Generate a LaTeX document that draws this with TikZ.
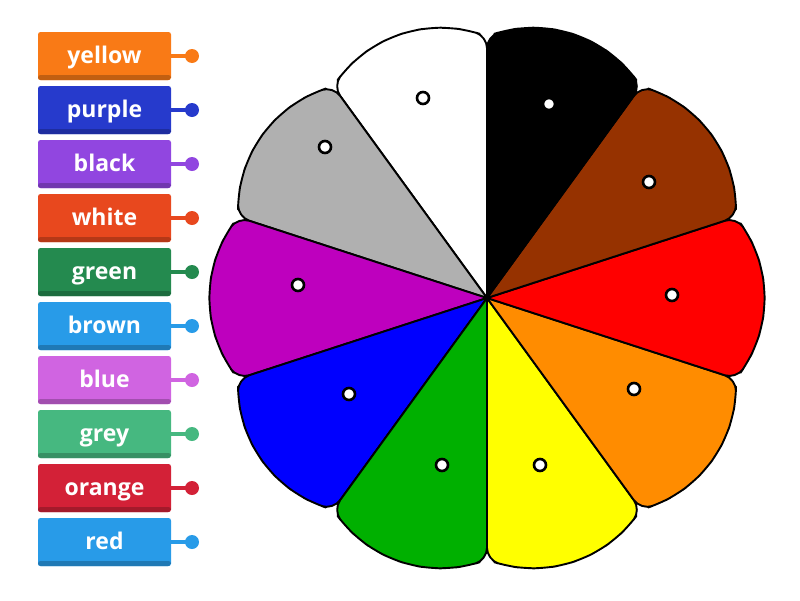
\documentclass[tikz,border=0pt]{standalone}
\usepackage{fontspec}
\setmainfont{Open Sans}
\definecolor{cyellowlbl}{RGB}{249,122,22}
\definecolor{cpurplelbl}{RGB}{38,58,204}
\definecolor{cblacklbl}{RGB}{145,70,224}
\definecolor{cwhitelbl}{RGB}{232,72,30}
\definecolor{cgreenlbl}{RGB}{36,138,79}
\definecolor{cbrownlbl}{RGB}{40,155,232}
\definecolor{cbluelbl}{RGB}{208,100,225}
\definecolor{cgreylbl}{RGB}{70,184,128}
\definecolor{corangelbl}{RGB}{211,33,55}
\definecolor{credlbl}{RGB}{40,155,232}
\definecolor{wbrown}{RGB}{150,50,0}
\definecolor{wred}{RGB}{255,0,0}
\definecolor{worange}{RGB}{255,140,0}
\definecolor{wyellow}{RGB}{255,255,0}
\definecolor{wgreen}{RGB}{0,176,0}
\definecolor{wblue}{RGB}{0,0,255}
\definecolor{wpurple}{RGB}{190,0,190}
\definecolor{wgrey}{RGB}{176,176,176}
\newcommand\petal[3]{%
  \filldraw[wedgeline, fill=#1] (0,0) -- (#2:262)
    \foreach \k in {1,...,8} { -- ({#2+4*\k}:{262+16*(1-((\k-4.5)/4.5)^2)}) }
    -- (#3:262) -- (0,0);}
\begin{document}
\begin{tikzpicture}[x=1pt,y=-1pt,
  wedgeline/.style={draw=black, line width=1.9pt, line join=round, rounded corners=12pt},
  pin/.style={circle, draw=black, fill=white, line width=2.6pt, inner sep=0pt, minimum size=12pt},
  lbl/.style={rectangle, rounded corners=2.5pt, minimum width=133pt, minimum height=48pt,
    inner sep=0pt, text=white, font=\bfseries\fontsize{23}{23}\selectfont,
    text height=18pt, text depth=4pt, fill=#1,
    path picture={\fill[#1!78!black] (path picture bounding box.south west) rectangle ([yshift=5pt]path picture bounding box.south east);}},
  ldot/.style={circle, fill=#1, inner sep=0pt, minimum size=14pt},
  lline/.style={line width=4pt, #1}]
\useasboundingbox (0,0) rectangle (800,600);
% wheel
\begin{scope}[shift={(487,298)}]
  \petal{white}{234}{270}
  \petal{wgrey}{198}{234}
  \petal{wpurple}{162}{198}
  \petal{wblue}{126}{162}
  \petal{wgreen}{90}{126}
  \petal{wyellow}{54}{90}
  \petal{worange}{18}{54}
  \petal{wred}{-18}{18}
  \petal{wbrown}{-54}{-18}
  \petal{black}{-90}{-54}
\end{scope}
% pins on wheel
\node[pin] (pwhite) at (423,98) {};
\node[pin] (pblack) at (549,104) {};
\node[pin] (pbrown) at (649,182) {};
\node[pin] (pred) at (672,295) {};
\node[pin] (porange) at (634,389) {};
\node[pin] (pyellow) at (540,465) {};
\node[pin] (pgreen) at (442,465) {};
\node[pin] (pblue) at (349,394) {};
\node[pin] (ppurple) at (298,285) {};
\node[pin] (pgrey) at (325,147) {};
% labels
\foreach \name [count=\i from 0] in {yellow,purple,black,white,green,brown,blue,grey,orange,red} {
  \node[lbl=c\name lbl] (l\name) at (104.5,{56+54*\i}) {\name};
  \node[ldot=c\name lbl] (d\name) at (192,{56+54*\i}) {};
  \draw[lline=c\name lbl] (l\name.east) -- (d\name.center);
}
\end{tikzpicture}
\end{document}
